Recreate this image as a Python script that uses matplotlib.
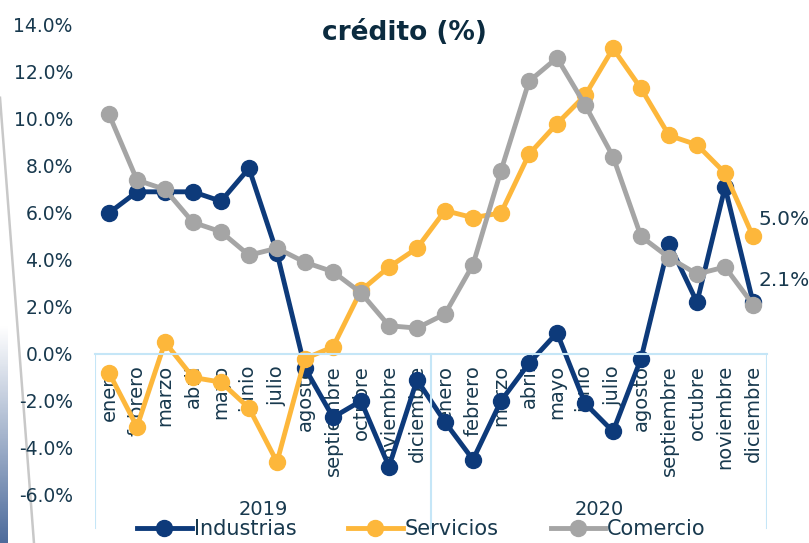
"""
Crecimiento anual de la cartera de crédito por sector, 2019-2020.
"""

import numpy as np
import matplotlib
matplotlib.use("Agg")
import matplotlib.pyplot as plt
from matplotlib.lines import Line2D
from matplotlib.ticker import FuncFormatter


MONTHS = ["enero", "febrero", "marzo", "abril", "mayo", "junio", "julio",
          "agosto", "septiembre", "octubre", "noviembre", "diciembre"]
YEARS = ["2019", "2020"]

industrias = [6.0, 6.9, 6.9, 6.9, 6.5, 7.9, 4.3, -0.6, -2.7, -2.0, -4.8, -1.1,
              -2.9, -4.5, -2.0, -0.4, 0.9, -2.1, -3.3, -0.2, 4.7, 2.2, 7.1, 2.2]
servicios = [-0.8, -3.1, 0.5, -1.0, -1.2, -2.3, -4.6, -0.2, 0.3, 2.7, 3.7, 4.5,
             6.1, 5.8, 6.0, 8.5, 9.8, 11.0, 13.0, 11.3, 9.3, 8.9, 7.7, 5.0]
comercio = [10.2, 7.4, 7.0, 5.6, 5.2, 4.2, 4.5, 3.9, 3.5, 2.6, 1.2, 1.1,
            1.7, 3.8, 7.8, 11.6, 12.6, 10.6, 8.4, 5.0, 4.1, 3.4, 3.7, 2.1]

SERIES = [("Industrias", industrias, "#0D3A7A"),
          ("Servicios", servicios, "#FDB73B"),
          ("Comercio", comercio, "#A5A5A5")]

TEXT = "#18394E"
BOX = "#C5E6F7"

plt.rcParams["font.family"] = ["DejaVu Sans"]

fig = plt.figure(figsize=(8.09, 5.43), dpi=100)

# adornos de la diapositiva (detrás del gráfico)
deco = fig.add_axes([0, 0, 0.009, 0.40], zorder=-1)
deco.imshow(np.linspace(0, 1, 100).reshape(-1, 1), aspect="auto",
            cmap=matplotlib.colors.LinearSegmentedColormap.from_list(
                "strip", ["#4E6C9C", "#FFFFFF"]), origin="lower")
deco.axis("off")
fig.add_artist(Line2D([0.0, 0.042], [0.82, 0.0], color="#C8C8C8", lw=1.8,
                      transform=fig.transFigure, zorder=-1))

ax = fig.add_axes([0.1174, 0.002, 0.8307, 0.952])
ax.patch.set_alpha(0)

labels = MONTHS * len(YEARS)
x = np.arange(len(labels))

for name, vals, color in SERIES:
    ax.plot(x, vals, color=color, lw=3.5, marker="o", ms=11.5,
            label=name, clip_on=False)

# etiquetas del último dato
ax.annotate(f"{servicios[-1]:.1f}%", (x[-1], servicios[-1]), xytext=(4, 12),
            textcoords="offset points", fontsize=14.5, color=TEXT,
            ha="left", va="center")
ax.annotate(f"{comercio[-1]:.1f}%", (x[-1], comercio[-1]), xytext=(4, 17),
            textcoords="offset points", fontsize=14.5, color=TEXT,
            ha="left", va="center")

ax.set_xlim(-0.5, len(labels) - 0.5)
ax.set_ylim(-8, 14)
ax.set_yticks(np.arange(-6, 15, 2))
ax.yaxis.set_major_formatter(FuncFormatter(lambda v, _: f"{v:.1f}%"))
ax.tick_params(axis="y", length=0, pad=16, labelsize=13.5, labelcolor=TEXT)

# eje de categorías en 0
for side in ["top", "right", "left"]:
    ax.spines[side].set_visible(False)
ax.spines["bottom"].set_position(("data", 0))
ax.spines["bottom"].set_color(BOX)
ax.spines["bottom"].set_linewidth(1.5)
ax.set_xticks(x)
ax.set_xticklabels(labels, rotation=90, fontsize=14, color=TEXT)
ax.tick_params(axis="x", length=0, pad=8)

# separadores y rótulos de año
y0, y1 = ax.get_ylim()
top_frac = (0 - y0) / (y1 - y0)
bot_frac = (-7.4 - y0) / (y1 - y0)
for b in np.arange(len(YEARS) + 1) * len(MONTHS) - 0.5:
    ax.axvline(b, ymin=bot_frac, ymax=top_frac, color=BOX, lw=1.5)
for i, yr in enumerate(YEARS):
    ax.text(i * len(MONTHS) + (len(MONTHS) - 1) / 2, -6.6, yr,
            ha="center", va="center", fontsize=14, color=TEXT)

fig.text(0.5, 0.94, "crédito (%)", ha="center", va="center",
         fontsize=19, fontweight="bold", color="#0B2B3F")

fig.legend(loc="center", bbox_to_anchor=(0.521, 0.026), ncol=3,
           frameon=False, fontsize=15, handlelength=2.6, columnspacing=2.5,
           handletextpad=0.1, labelcolor=TEXT, borderaxespad=0)

fig.savefig("out.png", dpi=100)
